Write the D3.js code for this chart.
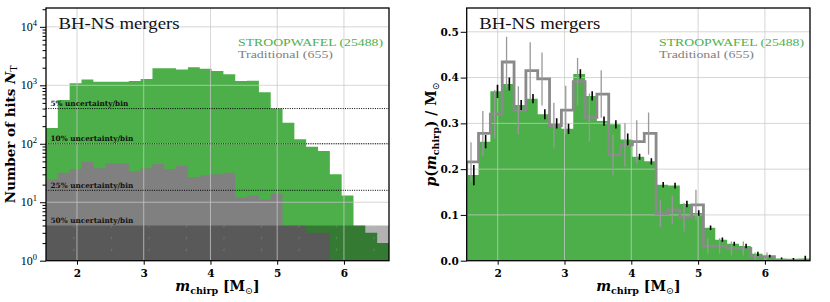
<!DOCTYPE html>
<html><head><meta charset="utf-8">
<script src="https://cdn.jsdelivr.net/npm/d3@7"></script>
<style>
body{margin:0;background:#fff}svg{display:block}
.rf{font-family:"Liberation Serif","DejaVu Serif","Times New Roman",serif;}
.bf{font-family:"DejaVu Serif","Liberation Serif",serif;font-weight:bold;}
</style>
</head><body><svg id="c" width="830" height="302"></svg>
<script>
// ---------------- data ----------------
const binEdges = [1.536,1.713,1.890,2.068,2.245,2.422,2.599,2.776,2.954,3.131,3.308,3.485,3.662,3.840,4.017,4.194,4.371,4.548,4.726,4.903,5.080,5.257,5.434,5.612,5.789,5.966,6.143,6.320,6.498,6.675];
const stroopCounts = [187,560,1080,1260,1150,1150,1150,1190,1280,1950,1950,1870,2030,1920,1750,1550,1180,1200,760,403,228,119,89,75,30,13,4,3,2];
const tradCounts   = [25,32,37,49,38,47,46,34,38,45,37,42,27,29,30,32,12,13,11,14,4,4,3,3,1,1,0,0,0];
const stroopDensity    = [0.187,0.260,0.370,0.386,0.340,0.354,0.320,0.300,0.288,0.408,0.360,0.305,0.298,0.265,0.227,0.217,0.166,0.164,0.124,0.104,0.072,0.046,0.037,0.032,0.015,0.010,0.005,0.004,0.005];
const stroopDensityErr = [0.022,0.0145,0.0145,0.014,0.011,0.010,0.011,0.011,0.011,0.010,0.010,0.010,0.009,0.013,0.0065,0.007,0.006,0.0065,0.007,0.006,0.005,0.0045,0.0045,0.005,0.0045,0.003,0.002,0.002,0.006];
const tradDensity    = [0.216,0.278,0.320,0.434,0.329,0.415,0.397,0.295,0.329,0.391,0.313,0.364,0.231,0.253,0.260,0.278,0.103,0.111,0.095,0.122,0.032,0.032,0.027,0.027,0.009,0.009,0,0,0];
const tradDensityErr = [0.043,0.049,0.053,0.055,0.052,0.062,0.058,0.050,0.053,0.052,0.052,0.052,0.045,0.047,0.047,0.046,0.030,0.031,0.031,0.033,0.017,0.017,0.015,0.015,0.009,0.009,0,0,0];
const xTicks = [2,3,4,5,6];
const logTicks = [1,10,100,1000,10000];
const densTicks = [0,0.1,0.2,0.3,0.4,0.5];
const uncertaintyLabels = ["5% uncertainty/bin","10% uncertainty/bin","25% uncertainty/bin","50% uncertainty/bin"];
const uncertaintyCounts = [400,100,16,4];
const legendTexts = ["STROOPWAFEL (25488)","Traditional (655)"];
const title = "BH-NS mergers";

// ---------------- style ----------------
const GREEN = "#4daf4a", GRAY = "#808080";
const svg = d3.select("#c");

const L = {x0:46, x1:389, y0:8, y1:260.7};
const R = {x0:466.7, x1:810, y0:8, y1:260.7};

const xL = d3.scaleLinear().domain([binEdges[0], binEdges[binEdges.length-1]]).range([L.x0, L.x1]);
const yL = d3.scaleLog().domain([1, 21000]).range([L.y1, L.y0]);
const xR = d3.scaleLinear().domain([binEdges[0], binEdges[binEdges.length-1]]).range([R.x0, R.x1]);
const yR = d3.scaleLinear().domain([0, 0.552]).range([R.y1, R.y0]);

const defs = svg.append("defs");
defs.append("clipPath").attr("id","clipL").append("rect").attr("x",L.x0).attr("y",L.y0).attr("width",L.x1-L.x0).attr("height",L.y1-L.y0);
defs.append("clipPath").attr("id","clipR").append("rect").attr("x",R.x0).attr("y",R.y0).attr("width",R.x1-R.x0).attr("height",R.y1-R.y0);
const pat = defs.append("pattern").attr("id","hatch").attr("patternUnits","userSpaceOnUse")
  .attr("x",72.5).attr("y",236.5).attr("width",37.5).attr("height",11.7);
pat.append("line").attr("x1",1).attr("y1",2.6).attr("x2",2).attr("y2",0.6)
  .attr("stroke","#fff").attr("stroke-opacity",0.28).attr("stroke-width",0.7);

function stepArea(vals, x, y, base, valid){
  let p = `M${x(binEdges[0])},${base}`;
  vals.forEach((v,i)=>{
    const yy = valid(v) ? y(v) : base;
    p += `L${x(binEdges[i])},${yy}L${x(binEdges[i+1])},${yy}`;
  });
  p += `L${x(binEdges[binEdges.length-1])},${base}Z`;
  return p;
}
function stepLine(vals, x, y, base){
  let p = `M${x(binEdges[0])},${base}`;
  vals.forEach((v,i)=>{ p += `L${x(binEdges[i])},${y(v)}L${x(binEdges[i+1])},${y(v)}`; });
  p += `L${x(binEdges[binEdges.length-1])},${base}`;
  return p;
}
const centers = binEdges.slice(0,-1).map((e,i)=>(e+binEdges[i+1])/2);
const GRID = {stroke:"#c8c8c8", op:0.75};

// ================= LEFT PANEL =================
const gL = svg.append("g");
const plotL = gL.append("g").attr("clip-path","url(#clipL)");
plotL.append("path").attr("d", stepArea(stroopCounts, xL, yL, L.y1, v=>v>=1)).attr("fill",GREEN);
plotL.append("path").attr("d", stepArea(tradCounts, xL, yL, L.y1, v=>v>=1)).attr("fill",GRAY);
plotL.append("rect").attr("x",L.x0).attr("y",yL(uncertaintyCounts[3])).attr("width",L.x1-L.x0)
  .attr("height",yL(1)-yL(uncertaintyCounts[3])).attr("fill","#000").attr("fill-opacity",0.3);
plotL.append("rect").attr("x",L.x0).attr("y",yL(uncertaintyCounts[3])).attr("width",L.x1-L.x0)
  .attr("height",yL(1)-yL(uncertaintyCounts[3])).attr("fill","url(#hatch)");
plotL.selectAll(".gx").data(xTicks).join("line").attr("x1",d=>xL(d)).attr("x2",d=>xL(d)).attr("y1",L.y0).attr("y2",L.y1)
  .attr("stroke",GRID.stroke).attr("stroke-opacity",GRID.op).attr("stroke-width",1);
plotL.selectAll(".gy").data(logTicks).join("line").attr("y1",d=>yL(d)).attr("y2",d=>yL(d)).attr("x1",L.x0).attr("x2",L.x1)
  .attr("stroke",GRID.stroke).attr("stroke-opacity",GRID.op).attr("stroke-width",1);
plotL.selectAll(".dl").data(uncertaintyCounts.slice(0,3)).join("line").attr("x1",L.x0).attr("x2",L.x1)
  .attr("y1",d=>yL(d)).attr("y2",d=>yL(d)).attr("stroke","#000").attr("stroke-width",1).attr("stroke-dasharray","1,1.3");
gL.selectAll(".ul").data(uncertaintyCounts).join("text").attr("class","bf").attr("x",L.x0+4.5).attr("y",d=>yL(d)-2.6)
  .attr("font-size",7.3).attr("fill","#111")
  .text((d,i)=>uncertaintyLabels[i]);

// ================= RIGHT PANEL =================
const gR = svg.append("g");
const plotR = gR.append("g").attr("clip-path","url(#clipR)");
plotR.append("path").attr("d", stepArea(stroopDensity, xR, yR, R.y1, v=>v>0)).attr("fill",GREEN);
plotR.selectAll(".gx").data(xTicks).join("line").attr("x1",d=>xR(d)).attr("x2",d=>xR(d)).attr("y1",R.y0).attr("y2",R.y1)
  .attr("stroke",GRID.stroke).attr("stroke-opacity",GRID.op).attr("stroke-width",1);
plotR.selectAll(".gy").data(densTicks).join("line").attr("y1",d=>yR(d)).attr("y2",d=>yR(d)).attr("x1",R.x0).attr("x2",R.x1)
  .attr("stroke",GRID.stroke).attr("stroke-opacity",GRID.op).attr("stroke-width",1);
plotR.append("path").attr("d", stepLine(tradDensity, xR, yR, R.y1)).attr("fill","none")
  .attr("stroke","#8a8a8a").attr("stroke-width",2.8).attr("stroke-linejoin","miter");
plotR.selectAll(".te").data(centers.map((c,i)=>({c,v:tradDensity[i],e:tradDensityErr[i]})).filter(d=>d.e>0))
  .join("line").attr("x1",d=>xR(d.c)-1.6).attr("x2",d=>xR(d.c)-1.6)
  .attr("y1",d=>yR(d.v-d.e)).attr("y2",d=>yR(d.v+d.e)).attr("stroke","#999").attr("stroke-width",1.3);
plotR.selectAll(".se").data(centers.map((c,i)=>({c,v:stroopDensity[i],e:stroopDensityErr[i]})))
  .join("line").attr("x1",d=>xR(d.c)+1.2).attr("x2",d=>xR(d.c)+1.2)
  .attr("y1",d=>yR(d.v-d.e)).attr("y2",d=>yR(d.v+d.e)).attr("stroke","#000").attr("stroke-width",1.6);

// ================= common decorations =================
function decorate(g, P, xs){
  g.append("text").attr("class","rf").attr("x",P.x0+12.5).attr("y",28.5).attr("font-size",17)
    .attr("textLength",121).attr("lengthAdjust","spacingAndGlyphs").attr("fill","#111").text(title);
  const lw = [145, 95];
  g.selectAll(".lg").data(legendTexts).join("text").attr("class","rf").attr("x",P.x1-151).attr("y",(d,i)=>46+i*12.4)
    .attr("font-size",10.6).attr("textLength",(d,i)=>lw[i]).attr("lengthAdjust","spacingAndGlyphs")
    .attr("fill",(d,i)=>i===0?GREEN:GRAY).text(d=>d);
  g.append("rect").attr("x",P.x0).attr("y",P.y0).attr("width",P.x1-P.x0).attr("height",P.y1-P.y0)
    .attr("fill","none").attr("stroke","#000").attr("stroke-width",1.3);
  const ax = g.append("g").attr("transform",`translate(0,${P.y1})`)
    .call(d3.axisBottom(xs).tickValues(xTicks).tickSize(4).tickPadding(4.5).tickFormat(d3.format("d")));
  ax.select(".domain").remove();
  ax.selectAll("text").attr("class","bf").attr("font-family",null).attr("font-size",10.5).attr("fill","#000");
  ax.selectAll("line").attr("stroke","#000").attr("stroke-width",1);
  const t = g.append("text").attr("class","bf").attr("x",(P.x0+P.x1)/2).attr("y",291).attr("text-anchor","middle")
    .attr("font-size",14).attr("fill","#000");
  t.append("tspan").attr("font-style","italic").text("m");
  t.append("tspan").attr("font-size",9.5).attr("dy",2.5).text("chirp");
  t.append("tspan").attr("dy",-2.5).text(" [M");
  t.append("tspan").attr("font-size",9.5).attr("dy",2.5).style("font-weight","normal").text("⊙");
  t.append("tspan").attr("dy",-2.5).text("]");
}
decorate(gL, L, xL);
decorate(gR, R, xR);

// left y axis (log)
const ayL = gL.append("g").attr("transform",`translate(${L.x0},0)`)
  .call(d3.axisLeft(yL).tickValues(logTicks).tickSize(6).tickFormat(""));
ayL.select(".domain").remove();
const minor = [];
logTicks.forEach(d=>{ for(let k=2;k<10;k++){ if(d*k<=21000) minor.push(d*k); } });
const ayLm = gL.append("g").attr("transform",`translate(${L.x0},0)`)
  .call(d3.axisLeft(yL).tickValues(minor).tickSize(3.5).tickFormat(""));
ayLm.select(".domain").remove();
gL.selectAll(".tick line").attr("stroke","#000");
const lt = gL.selectAll(".ylab").data(logTicks).join("text").attr("class","rf").attr("x",L.x0-9).attr("y",d=>yL(d)+4)
  .attr("text-anchor","end").attr("font-size",12).attr("fill","#000");
lt.append("tspan").text("10");
lt.append("tspan").attr("dy",-5).attr("font-size",8.5).text(d=>Math.round(Math.log10(d)));
const yl = gL.append("text").attr("class","bf").attr("transform",`translate(14.5,${(L.y0+L.y1)/2}) rotate(-90)`).attr("text-anchor","middle")
  .attr("font-size",13.5).attr("fill","#000");
yl.append("tspan").text("Number of hits ");
yl.append("tspan").attr("font-style","italic").text("N");
yl.append("tspan").attr("font-size",9).attr("dy",2.5).style("font-weight","normal").text("T");

// right y axis
const ayR = gR.append("g").attr("transform",`translate(${R.x0},0)`)
  .call(d3.axisLeft(yR).tickValues(densTicks).tickSize(6).tickPadding(2).tickFormat(d3.format(".1f")));
ayR.select(".domain").remove();
ayR.selectAll("text").attr("class","bf").attr("font-family",null).attr("font-size",10.5).attr("fill","#000");
ayR.selectAll("line").attr("stroke","#000");
const yr = gR.append("text").attr("class","bf").attr("transform",`translate(436,${(R.y0+R.y1)/2}) rotate(-90)`).attr("text-anchor","middle")
  .attr("font-size",14).attr("fill","#000");
yr.append("tspan").attr("font-style","italic").text("p");
yr.append("tspan").text("(");
yr.append("tspan").attr("font-style","italic").text("m");
yr.append("tspan").attr("font-size",9.5).attr("dy",2.5).text("chirp");
yr.append("tspan").attr("dy",-2.5).text(") / M");
yr.append("tspan").attr("font-size",9.5).attr("dy",2.5).style("font-weight","normal").text("⊙");
</script></body></html>
